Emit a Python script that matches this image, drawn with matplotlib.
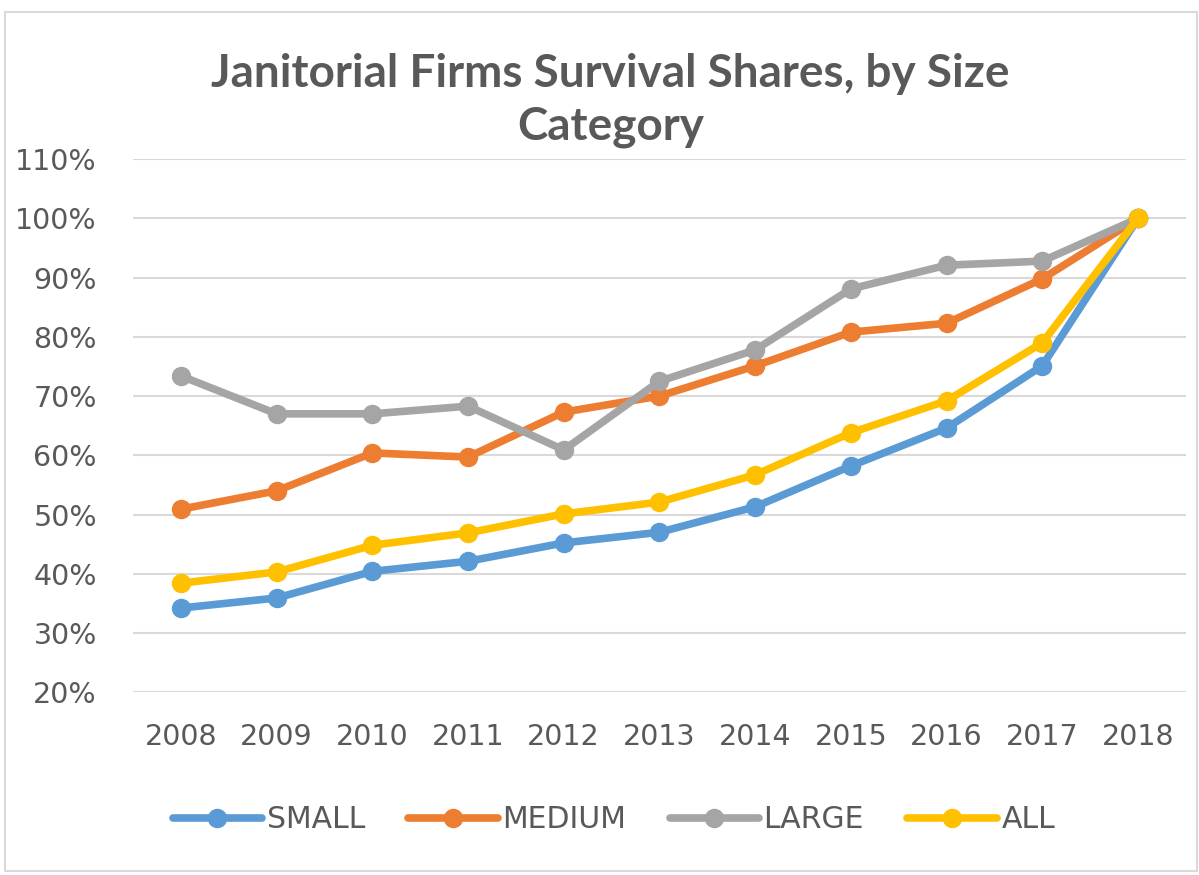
import matplotlib
matplotlib.use("Agg")
import matplotlib.pyplot as plt
from matplotlib.patches import Rectangle

years = ["2008", "2009", "2010", "2011", "2012", "2013", "2014", "2015", "2016", "2017", "2018"]
small = [34.2, 35.9, 40.4, 42.1, 45.2, 47.0, 51.3, 58.2, 64.6, 75.1, 100.0]
medium = [50.9, 54.0, 60.4, 59.7, 67.3, 70.0, 75.1, 80.8, 82.3, 89.8, 100.0]
large = [73.4, 67.0, 67.0, 68.3, 60.9, 72.5, 77.8, 88.1, 92.1, 92.8, 100.0]
all_firms = [38.4, 40.3, 44.8, 46.9, 50.1, 52.1, 56.7, 63.8, 69.2, 79.0, 100.0]
series_names = ["SMALL", "MEDIUM", "LARGE", "ALL"]
colors = ["#5b9bd5", "#ed7d31", "#a5a5a5", "#ffc000"]
yticks = [20, 30, 40, 50, 60, 70, 80, 90, 100, 110]

plt.rcParams['font.family'] = ['DejaVu Sans']
txt = "#595959"

fig = plt.figure(figsize=(11.99, 8.75), dpi=100)
fig.patches.append(Rectangle((0.004, 0.005), 0.994, 0.981, transform=fig.transFigure,
                             fill=False, edgecolor="#d9d9d9", linewidth=1.5))
ax = fig.add_axes([0.111, 0.209, 0.878, 0.609])

x = list(range(len(years)))
for name, vals, c in zip(series_names, [small, medium, large, all_firms], colors):
    ax.plot(x, vals, color=c, linewidth=5.5, marker="o", markersize=13, label=name,
            solid_capstyle="round", solid_joinstyle="round")

ax.set_xlim(-0.5, len(years) - 0.5)
ax.set_ylim(20, 110)
ax.set_yticks(yticks)
ax.set_yticklabels([f"{v}%" for v in yticks])
ax.set_xticks(x)
ax.set_xticklabels(years)
ax.grid(axis="y", color="#d9d9d9", linewidth=1.5)
ax.set_axisbelow(True)
for s in ax.spines.values():
    s.set_visible(False)
ax.tick_params(axis="both", length=0, labelsize=20.5, colors=txt)
ax.tick_params(axis="y", pad=26)
ax.tick_params(axis="x", pad=22)

fig.text(0.509, 0.885, "Janitorial Firms Survival Shares, by Size\nCategory", ha="center", va="center",
         fontsize=33, fontweight="bold", color=txt, linespacing=1.32, family="Lato")

leg = fig.legend(loc="center", bbox_to_anchor=(0.512, 0.063), ncol=4, frameon=False,
                 fontsize=21.5, handlelength=3.0, columnspacing=1.45, handletextpad=0.15)
for t in leg.get_texts():
    t.set_color(txt)

fig.savefig("out.png", dpi=100)
